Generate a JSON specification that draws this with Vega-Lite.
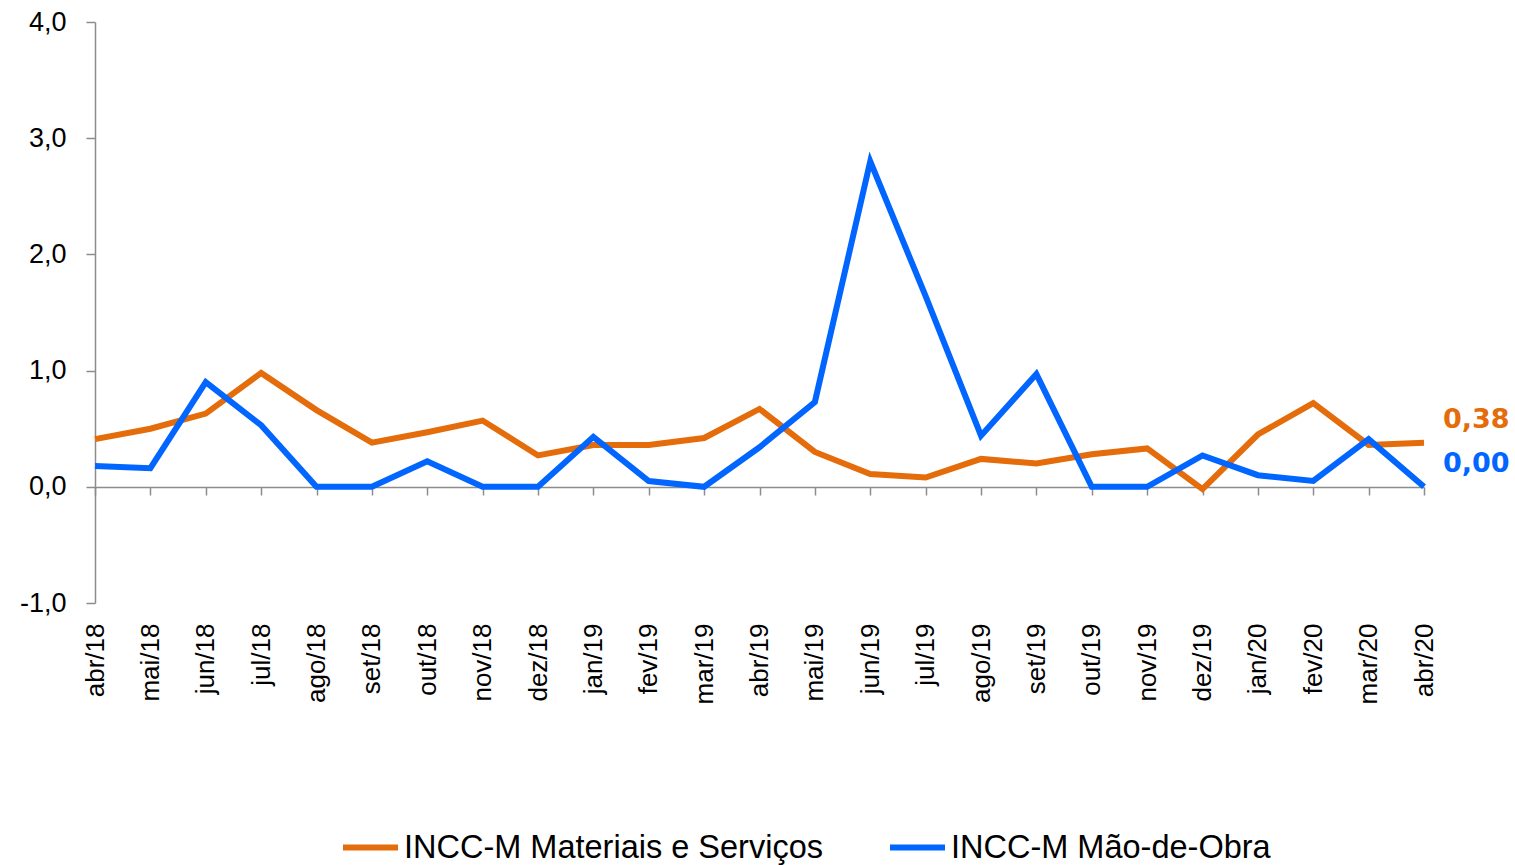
{
  "$schema": "https://vega.github.io/schema/vega-lite/v6.json",
  "autosize": "none",
  "width": 1329,
  "height": 581,
  "padding": {"left": 95, "top": 22, "right": 91, "bottom": 262},
  "background": "white",
  "config": {
    "locale": {"number": {"decimal": ",", "thousands": ".", "grouping": [3], "currency": ["R$", ""], "minus": "-"}},
    "view": {"stroke": null}
  },
  "datasets": {
    "d": [
      {"mes": "abr/18", "serie": "INCC-M Materiais e Serviços", "valor": 0.41},
      {"mes": "mai/18", "serie": "INCC-M Materiais e Serviços", "valor": 0.50},
      {"mes": "jun/18", "serie": "INCC-M Materiais e Serviços", "valor": 0.63},
      {"mes": "jul/18", "serie": "INCC-M Materiais e Serviços", "valor": 0.98},
      {"mes": "ago/18", "serie": "INCC-M Materiais e Serviços", "valor": 0.66},
      {"mes": "set/18", "serie": "INCC-M Materiais e Serviços", "valor": 0.38},
      {"mes": "out/18", "serie": "INCC-M Materiais e Serviços", "valor": 0.47},
      {"mes": "nov/18", "serie": "INCC-M Materiais e Serviços", "valor": 0.57},
      {"mes": "dez/18", "serie": "INCC-M Materiais e Serviços", "valor": 0.27},
      {"mes": "jan/19", "serie": "INCC-M Materiais e Serviços", "valor": 0.36},
      {"mes": "fev/19", "serie": "INCC-M Materiais e Serviços", "valor": 0.36},
      {"mes": "mar/19", "serie": "INCC-M Materiais e Serviços", "valor": 0.42},
      {"mes": "abr/19", "serie": "INCC-M Materiais e Serviços", "valor": 0.67},
      {"mes": "mai/19", "serie": "INCC-M Materiais e Serviços", "valor": 0.30},
      {"mes": "jun/19", "serie": "INCC-M Materiais e Serviços", "valor": 0.11},
      {"mes": "jul/19", "serie": "INCC-M Materiais e Serviços", "valor": 0.08},
      {"mes": "ago/19", "serie": "INCC-M Materiais e Serviços", "valor": 0.24},
      {"mes": "set/19", "serie": "INCC-M Materiais e Serviços", "valor": 0.20},
      {"mes": "out/19", "serie": "INCC-M Materiais e Serviços", "valor": 0.28},
      {"mes": "nov/19", "serie": "INCC-M Materiais e Serviços", "valor": 0.33},
      {"mes": "dez/19", "serie": "INCC-M Materiais e Serviços", "valor": -0.02},
      {"mes": "jan/20", "serie": "INCC-M Materiais e Serviços", "valor": 0.45},
      {"mes": "fev/20", "serie": "INCC-M Materiais e Serviços", "valor": 0.72},
      {"mes": "mar/20", "serie": "INCC-M Materiais e Serviços", "valor": 0.36},
      {"mes": "abr/20", "serie": "INCC-M Materiais e Serviços", "valor": 0.38},
      {"mes": "abr/18", "serie": "INCC-M Mão-de-Obra", "valor": 0.18},
      {"mes": "mai/18", "serie": "INCC-M Mão-de-Obra", "valor": 0.16},
      {"mes": "jun/18", "serie": "INCC-M Mão-de-Obra", "valor": 0.90},
      {"mes": "jul/18", "serie": "INCC-M Mão-de-Obra", "valor": 0.53},
      {"mes": "ago/18", "serie": "INCC-M Mão-de-Obra", "valor": 0.00},
      {"mes": "set/18", "serie": "INCC-M Mão-de-Obra", "valor": 0.00},
      {"mes": "out/18", "serie": "INCC-M Mão-de-Obra", "valor": 0.22},
      {"mes": "nov/18", "serie": "INCC-M Mão-de-Obra", "valor": 0.00},
      {"mes": "dez/18", "serie": "INCC-M Mão-de-Obra", "valor": 0.00},
      {"mes": "jan/19", "serie": "INCC-M Mão-de-Obra", "valor": 0.43},
      {"mes": "fev/19", "serie": "INCC-M Mão-de-Obra", "valor": 0.05},
      {"mes": "mar/19", "serie": "INCC-M Mão-de-Obra", "valor": 0.00},
      {"mes": "abr/19", "serie": "INCC-M Mão-de-Obra", "valor": 0.34},
      {"mes": "mai/19", "serie": "INCC-M Mão-de-Obra", "valor": 0.73},
      {"mes": "jun/19", "serie": "INCC-M Mão-de-Obra", "valor": 2.80},
      {"mes": "jul/19", "serie": "INCC-M Mão-de-Obra", "valor": 1.64},
      {"mes": "ago/19", "serie": "INCC-M Mão-de-Obra", "valor": 0.44},
      {"mes": "set/19", "serie": "INCC-M Mão-de-Obra", "valor": 0.97},
      {"mes": "out/19", "serie": "INCC-M Mão-de-Obra", "valor": 0.00},
      {"mes": "nov/19", "serie": "INCC-M Mão-de-Obra", "valor": 0.00},
      {"mes": "dez/19", "serie": "INCC-M Mão-de-Obra", "valor": 0.27},
      {"mes": "jan/20", "serie": "INCC-M Mão-de-Obra", "valor": 0.10},
      {"mes": "fev/20", "serie": "INCC-M Mão-de-Obra", "valor": 0.05},
      {"mes": "mar/20", "serie": "INCC-M Mão-de-Obra", "valor": 0.41},
      {"mes": "abr/20", "serie": "INCC-M Mão-de-Obra", "valor": 0.00}
    ]
  },
  "data": {"name": "d"},
  "encoding": {
    "x": {
      "field": "mes",
      "type": "ordinal",
      "sort": null,
      "scale": {"type": "point", "padding": 0},
      "axis": {
        "title": null,
        "offset": -116,
        "domainColor": "#8c8c8c",
        "domainWidth": 1.5,
        "tickColor": "#8c8c8c",
        "tickWidth": 1.5,
        "tickSize": 8,
        "labelAngle": 270,
        "labelPadding": 128,
        "labelFont": "Liberation Sans",
        "labelFontSize": 26,
        "labelColor": "#000000"
      }
    },
    "y": {
      "field": "valor",
      "type": "quantitative",
      "scale": {"domain": [-1, 4], "nice": false, "zero": false},
      "axis": {
        "title": null,
        "values": [-1, 0, 1, 2, 3, 4],
        "format": ".1f",
        "grid": false,
        "domainColor": "#8c8c8c",
        "domainWidth": 1.5,
        "tickColor": "#8c8c8c",
        "tickWidth": 1.5,
        "tickSize": 9,
        "labelPadding": 20,
        "labelFont": "Liberation Sans",
        "labelFontSize": 27,
        "labelColor": "#000000"
      }
    },
    "color": {
      "field": "serie",
      "type": "nominal",
      "scale": {
        "domain": ["INCC-M Materiais e Serviços", "INCC-M Mão-de-Obra"],
        "range": ["#E46C0A", "#0066FF"]
      }
    }
  },
  "layer": [
    {
      "mark": {"type": "line", "strokeWidth": 6, "strokeJoin": "miter"},
      "encoding": {
        "color": {
          "field": "serie",
          "type": "nominal",
          "legend": {
            "title": null,
            "orient": "none",
            "direction": "horizontal",
            "legendX": 245,
            "legendY": 795,
            "symbolType": "stroke",
            "symbolSize": 3025,
            "symbolStrokeWidth": 6,
            "labelFont": "Liberation Sans",
            "labelFontSize": 32.5,
            "labelColor": "#000000",
            "labelOffset": 3,
            "columnPadding": 55,
            "labelLimit": 700
          }
        }
      }
    },
    {
      "transform": [{"filter": "datum.mes === 'abr/20'"}],
      "mark": {"type": "text", "align": "left", "baseline": "middle", "dx": 19, "dy": -23, "font": "DejaVu Sans", "fontWeight": "bold", "fontSize": 27},
      "encoding": {
        "text": {"field": "valor", "type": "quantitative", "format": ".2f"},
        "color": {"field": "serie", "type": "nominal", "legend": null}
      }
    }
  ]
}
